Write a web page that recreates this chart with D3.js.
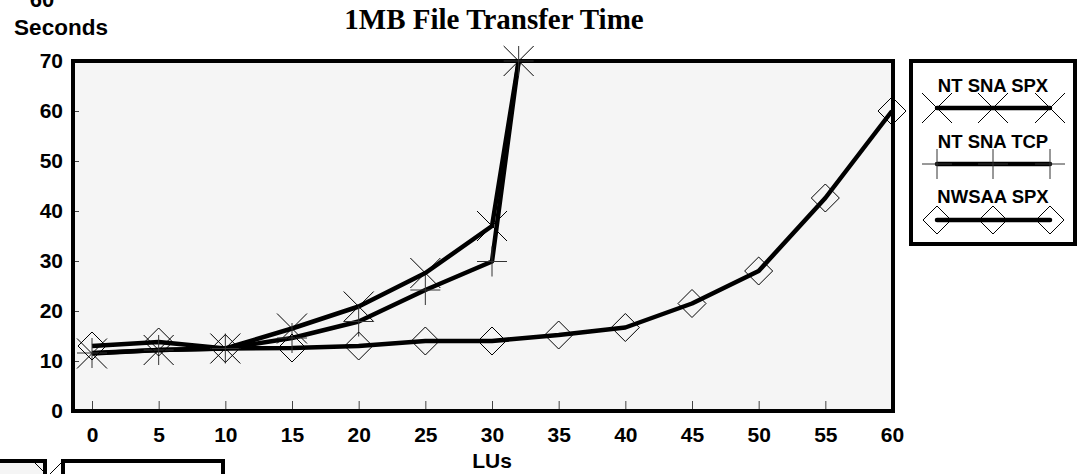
<!DOCTYPE html>
<html>
<head>
<meta charset="utf-8">
<script src="https://cdn.jsdelivr.net/npm/d3@7"></script>
<style>
  body { margin: 0; background: #fff; }
  svg { display: block; }
  .tick text { font-family: "Liberation Sans", Arial, sans-serif; font-weight: bold; font-size: 21px; fill: #000; }
  .tick line { stroke: #444; stroke-width: 1; }
</style>
</head>
<body>
<div id="chart"></div>
<script>
// =====================================
// DATA
// =====================================

const luTicks = [0, 5, 10, 15, 20, 25, 30, 35, 40, 45, 50, 55, 60];
const secTicks = [0, 10, 20, 30, 40, 50, 60, 70];

const snaSpxLUs = [0, 5, 10, 15, 20, 25, 30, 32];
const snaSpxSec = [11.5, 12.2, 12.5, 16.5, 20.9, 27.6, 37, 70];

const snaTcpLUs = [0, 5, 10, 15, 20, 25, 30, 32];
const snaTcpSec = [11.6, 12.2, 12.5, 14.6, 17.9, 24.2, 29.9, 70];

const nwsaaLUs = [0, 5, 10, 15, 20, 25, 30, 35, 40, 45, 50, 55, 60];
const nwsaaSec = [13, 13.8, 12.5, 12.6, 13, 14, 14, 15.2, 16.7, 21.5, 28, 42.6, 60];

const seriesNames = ["NT SNA SPX", "NT SNA TCP", "NWSAA SPX"];
const seriesMarks = ["x", "plus", "diamond"];

// =====================================
// DIMENSIONS
// =====================================

const W = 1080, H = 474;
const plot = { left: 73, right: 893, top: 61, bottom: 411 };

const svg = d3.select("#chart")
  .append("svg")
  .attr("width", W)
  .attr("height", H);

const font = "'Liberation Sans', Arial, sans-serif";

// =====================================
// SCALES
// =====================================

const x = d3.scaleLinear()
  .domain([-1.5, 60])
  .range([plot.left - 1, plot.right - 1]);

const y = d3.scaleLinear()
  .domain([0, 70])
  .range([plot.bottom, plot.top]);

// =====================================
// FRAME
// =====================================

svg.append("rect")
  .attr("x", plot.left)
  .attr("y", plot.top)
  .attr("width", plot.right - plot.left)
  .attr("height", plot.bottom - plot.top)
  .attr("fill", "#f5f5f5");

// X Axis
const xAxis = svg.append("g")
  .attr("transform", `translate(0,${plot.bottom})`)
  .call(d3.axisBottom(x).tickValues(luTicks).tickSizeInner(-10).tickSizeOuter(0).tickPadding(16));
xAxis.select(".domain").remove();
xAxis.selectAll(".tick").filter(d => d === 60).select("line").remove();

// Y Axis
const yAxis = svg.append("g")
  .attr("transform", `translate(${plot.left},0)`)
  .call(d3.axisLeft(y).tickValues(secTicks).tickSizeInner(-6).tickSizeOuter(0).tickPadding(10));
yAxis.select(".domain").remove();
yAxis.selectAll(".tick").filter(d => d === 0 || d === 70).select("line").remove();

svg.append("rect")
  .attr("x", plot.left)
  .attr("y", plot.top)
  .attr("width", plot.right - plot.left)
  .attr("height", plot.bottom - plot.top)
  .attr("fill", "none")
  .attr("stroke", "#000")
  .attr("stroke-width", 4);

// =====================================
// MARKERS
// =====================================

function drawMarker(g, kind, cx, cy) {
  if (kind === "x") {
    const s = 15;
    g.append("path")
      .attr("d", `M${cx - s},${cy - s}L${cx + s},${cy + s}M${cx - s},${cy + s}L${cx + s},${cy - s}`)
      .attr("stroke", "#000").attr("stroke-width", 1).attr("fill", "none");
  } else if (kind === "plus") {
    const s = 15;
    g.append("path")
      .attr("d", `M${cx - s},${cy}L${cx + s},${cy}M${cx},${cy - s}L${cx},${cy + s}`)
      .attr("stroke", "#333").attr("stroke-width", 1).attr("fill", "none");
  } else {
    const s = 14;
    g.append("path")
      .attr("d", `M${cx},${cy - s}L${cx + s},${cy}L${cx},${cy + s}L${cx - s},${cy}Z`)
      .attr("stroke", "#000").attr("stroke-width", 1).attr("fill", "none");
  }
}

// =====================================
// LINES
// =====================================

const series = [
  { lus: snaSpxLUs, sec: snaSpxSec },
  { lus: snaTcpLUs, sec: snaTcpSec },
  { lus: nwsaaLUs, sec: nwsaaSec }
];

const line = d3.line()
  .x(d => x(d[0]))
  .y(d => y(d[1]));

const lines = svg.append("g");
series.forEach((s, i) => {
  const pts = s.lus.map((l, j) => [l, s.sec[j]]);
  lines.append("path")
    .attr("d", line(pts))
    .attr("fill", "none")
    .attr("stroke", "#000")
    .attr("stroke-width", 4.5)
    .attr("stroke-linejoin", "round");
});

const marks = svg.append("g");
series.forEach((s, i) => {
  s.lus.forEach((l, j) => drawMarker(marks, seriesMarks[i], x(l), y(s.sec[j])));
});

// =====================================
// TEXT
// =====================================

svg.append("text")
  .attr("x", 494)
  .attr("y", 29)
  .attr("text-anchor", "middle")
  .style("font-family", "'Liberation Serif', 'Times New Roman', serif")
  .style("font-weight", "bold")
  .style("font-size", "29px")
  .text("1MB File Transfer Time");

svg.append("text")
  .attr("x", 61)
  .attr("y", 35)
  .attr("text-anchor", "middle")
  .style("font-family", font)
  .style("font-weight", "bold")
  .style("font-size", "22.5px")
  .text("Seconds");

svg.append("text")
  .attr("x", 42)
  .attr("y", 7)
  .attr("text-anchor", "middle")
  .style("font-family", font)
  .style("font-weight", "bold")
  .style("font-size", "22px")
  .text("60");

svg.append("text")
  .attr("x", 492)
  .attr("y", 468)
  .attr("text-anchor", "middle")
  .style("font-family", font)
  .style("font-weight", "bold")
  .style("font-size", "21px")
  .text("LUs");

// =====================================
// LEGEND
// =====================================

const legend = svg.append("g");
legend.append("rect")
  .attr("x", 911).attr("y", 61)
  .attr("width", 164).attr("height", 183)
  .attr("fill", "#fff")
  .attr("stroke", "#000")
  .attr("stroke-width", 4);

seriesNames.forEach((name, i) => {
  const ty = 92 + i * 55.5;
  const ly = 108 + i * 56;
  legend.append("text")
    .attr("x", 993).attr("y", ty)
    .attr("text-anchor", "middle")
    .style("font-family", font)
    .style("font-weight", "bold")
    .style("font-size", "18.5px")
    .text(name);
  legend.append("line")
    .attr("x1", 937).attr("x2", 1050)
    .attr("y1", ly).attr("y2", ly)
    .attr("stroke", "#000").attr("stroke-width", 4.5)
    .attr("stroke-linecap", "round");
  [937, 993, 1050].forEach(mx => drawMarker(legend, seriesMarks[i], mx, ly));
});

// =====================================
// CUT-OFF BOXES (bottom left)
// =====================================

svg.append("rect")
  .attr("x", -10).attr("y", 461)
  .attr("width", 55).attr("height", 40)
  .attr("fill", "#f5f5f5")
  .attr("stroke", "#000").attr("stroke-width", 4);
drawMarker(svg, "x", 48, 476);

svg.append("rect")
  .attr("x", 63).attr("y", 461)
  .attr("width", 160).attr("height", 40)
  .attr("fill", "#fff")
  .attr("stroke", "#000").attr("stroke-width", 4);
</script>
</body>
</html>
